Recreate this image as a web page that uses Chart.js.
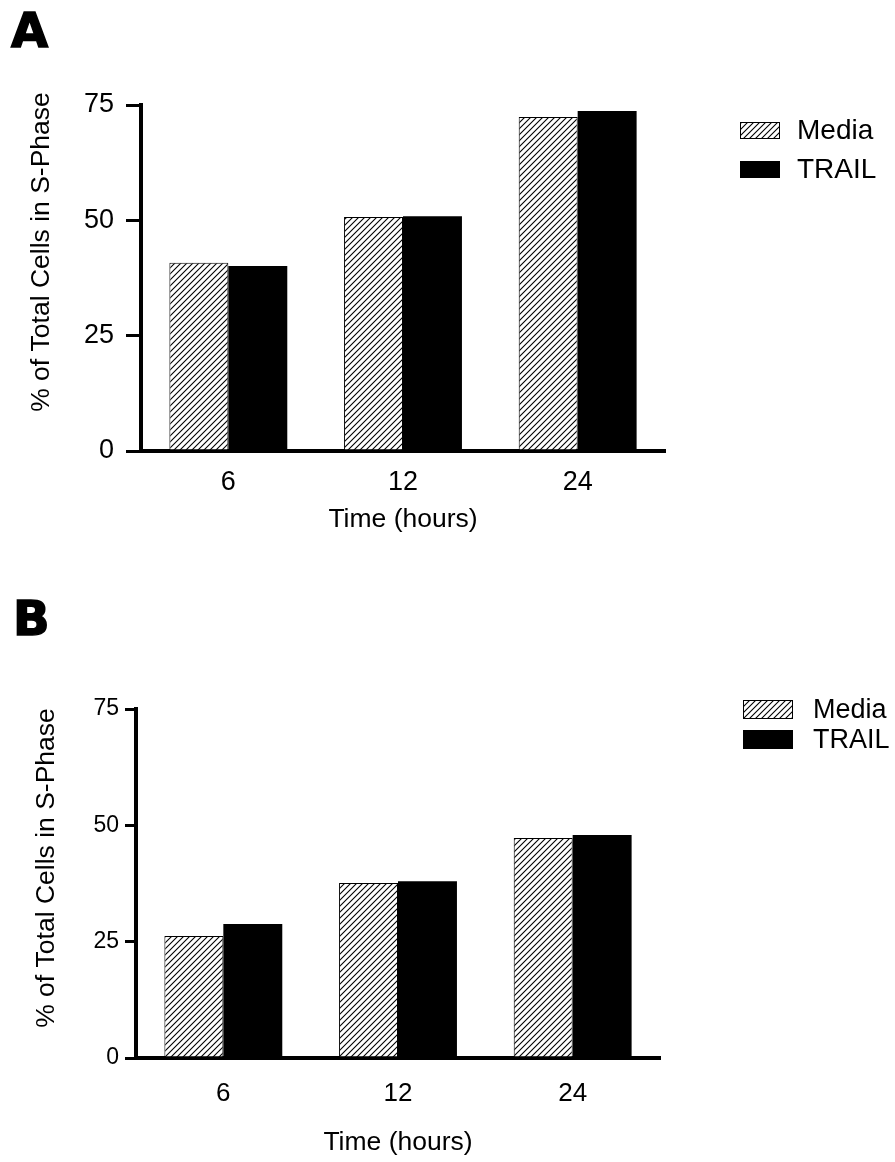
<!DOCTYPE html>
<html>
<head>
<meta charset="utf-8">
<script src="https://cdn.jsdelivr.net/npm/chart.js@4"></script>
<style>
  body { margin: 0; background: #fff; width: 895px; height: 1162px; position: relative; overflow: hidden; }
  canvas { position: absolute; left: 0; }
  .letter { position: absolute; font-family: "DejaVu Sans"; font-weight: bold; font-size: 48px; line-height: 1; color: #000; -webkit-text-stroke: 1.5px #000; }
</style>
</head>
<body>
<canvas id="chartA" width="895" height="580" style="top:0"></canvas>
<canvas id="chartB" width="895" height="582" style="top:580px"></canvas>
<div class="letter" style="left:11px;top:6px">A</div>
<div class="letter" style="left:13px;top:594px">B</div>
<script>
// data
const timeLabels = ['6', '12', '24'];
const seriesNames = ['Media', 'TRAIL'];
const mediaA = [40.8, 50.7, 72.4];
const trailA = [40.1, 50.9, 73.7];
const mediaB = [26.2, 37.6, 47.3];
const trailB = [28.8, 38.0, 47.9];
const yTicks = [0, 25, 50, 75];

const FONT = '"Liberation Sans", Arial, Helvetica, sans-serif';

// diagonal hatch for the Media bars
function makeHatch() {
     const c = document.createElement('canvas');
     c.width = 6; c.height = 6;
     const g = c.getContext('2d');
     g.fillStyle = '#fff';
     g.fillRect(0, 0, 6, 6);
     g.strokeStyle = '#000';
     g.lineWidth = 1.1;
     g.beginPath();
     g.moveTo(0, 6); g.lineTo(6, 0);
     g.moveTo(-1, 1); g.lineTo(1, -1);
     g.moveTo(5, 7); g.lineTo(7, 5);
     g.stroke();
     return g.createPattern(c, 'repeat');
}

// y title + legend, drawn after the chart
const panelDecor = {
     id: 'panelDecor',
     afterDraw(chart, args, s) {
          const ctx = chart.ctx;
          ctx.save();
          ctx.fillStyle = '#000';
          // rotated y axis title
          ctx.translate(s.yTitleX, s.yTitleY);
          ctx.rotate(-Math.PI / 2);
          ctx.font = `${s.titleSize}px ${FONT}`;
          ctx.textAlign = 'center';
          ctx.textBaseline = 'middle';
          ctx.fillText('% of Total Cells in S-Phase', 0, 0);
          ctx.setTransform(1, 0, 0, 1, 0, 0);

          // legend
          ctx.font = `${s.legendSize}px ${FONT}`;
          ctx.textAlign = 'left';
          chart.data.datasets.forEach((ds, i) => {
               const y = s.legendY + i * s.legendGap;
               ctx.fillStyle = ds.backgroundColor;
               ctx.fillRect(s.legendX, y, s.boxW, s.boxH);
               ctx.strokeStyle = '#000';
               ctx.lineWidth = 1;
               ctx.strokeRect(s.legendX + 0.5, y + 0.5, s.boxW - 1, s.boxH - 1);
               ctx.fillStyle = '#000';
               ctx.fillText(ds.label, s.legendTextX, y + s.boxH / 2 + 1);
          });
          ctx.restore();
     }
};

function makePanel(canvasId, media, trail, s) {
     const hatch = makeHatch();
     return new Chart(document.getElementById(canvasId), {
          type: 'bar',
          data: {
               labels: timeLabels,
               datasets: [
                    { label: seriesNames[0], data: media, backgroundColor: hatch, borderColor: '#000', borderWidth: 1 },
                    { label: seriesNames[1], data: trail, backgroundColor: '#000', borderColor: '#000', borderWidth: 0 }
               ]
          },
          options: {
               responsive: false,
               animation: false,
               layout: { padding: { left: 0, top: s.top, right: s.right, bottom: 0 } },
               datasets: { bar: { categoryPercentage: 0.675, barPercentage: 1 } },
               plugins: {
                    legend: { display: false },
                    tooltip: { enabled: false },
                    panelDecor: s
               },
               scales: {
                    x: {
                         grid: { display: false },
                         border: { display: true, color: '#000', width: 4 },
                         ticks: { color: '#000', font: { family: FONT, size: s.xTickSize }, padding: s.xPad },
                         title: {
                              display: true, text: 'Time (hours)', color: '#000',
                              font: { family: FONT, size: s.titleSize },
                              padding: { top: 0, bottom: s.xTitlePad }
                         },
                         afterFit: sc => { sc.height = s.xHeight; }
                    },
                    y: {
                         min: 0,
                         max: 75,
                         afterBuildTicks: sc => { sc.ticks = yTicks.map(v => ({ value: v })); },
                         grid: { drawOnChartArea: false, drawTicks: true, tickLength: s.tickLen, lineWidth: 3, color: '#000' },
                         border: { display: true, color: '#000', width: 4 },
                         ticks: { color: '#000', font: { family: FONT, size: s.yTickSize }, padding: s.yPad },
                         afterFit: sc => { sc.width = s.yWidth; }
                    }
               }
          },
          plugins: [panelDecor]
     });
}

// panel A
makePanel('chartA', mediaA, trailA, {
     top: 105, right: 230, yWidth: 141, xHeight: 129,
     tickLen: 15, yPad: 12, xPad: 7, xTitlePad: 44,
     yTickSize: 27, xTickSize: 27, titleSize: 26.5,
     yTitleX: 42, yTitleY: 252,
     legendX: 740, legendY: 122, legendGap: 39, boxW: 40, boxH: 17, legendTextX: 797, legendSize: 28
});

// panel B
makePanel('chartB', mediaB, trailB, {
     top: 129, right: 235, yWidth: 136, xHeight: 104,
     tickLen: 11, yPad: 6, xPad: 12, xTitlePad: 3,
     yTickSize: 23, xTickSize: 26, titleSize: 26.5,
     yTitleX: 47, yTitleY: 288,
     legendX: 743, legendY: 120, legendGap: 30, boxW: 50, boxH: 19, legendTextX: 813, legendSize: 27
});
</script>
</body>
</html>
